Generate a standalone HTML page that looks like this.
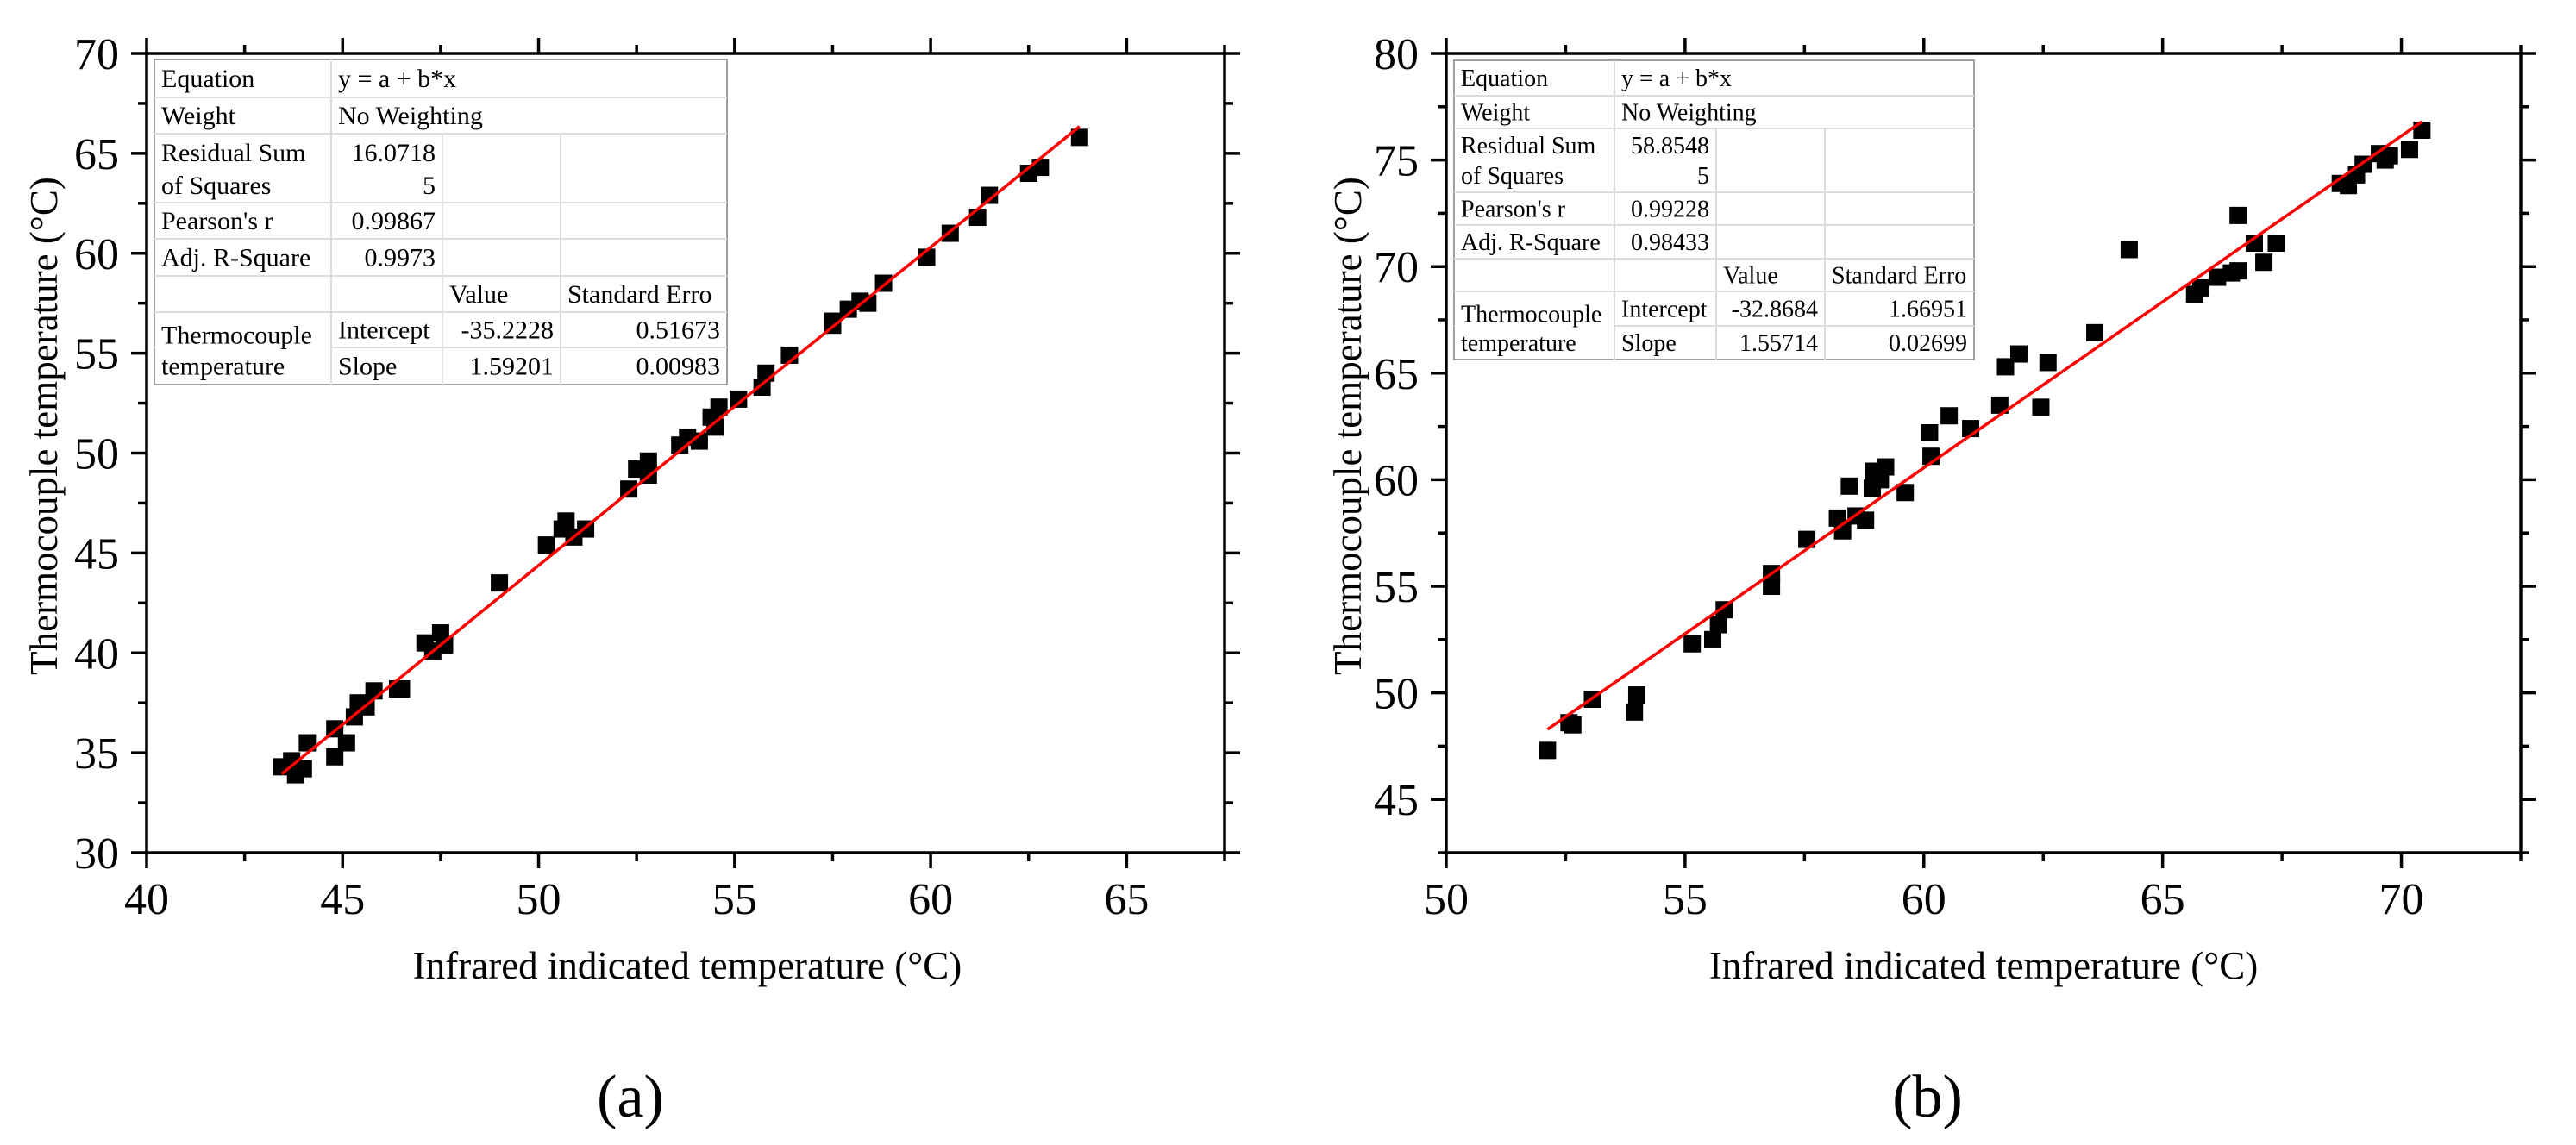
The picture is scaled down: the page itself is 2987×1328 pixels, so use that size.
<!DOCTYPE html>
<html><head><meta charset="utf-8"><style>
html,body{margin:0;padding:0;background:#fff;}
svg{display:block;}
text{font-family:"Liberation Serif",serif;fill:#000;}
</style></head><body>
<svg id="fig" width="2987" height="1328" viewBox="0 0 2987 1328" xmlns="http://www.w3.org/2000/svg">
<g id="pa"></g>
<g id="pb"></g>
</svg>
<script>
// Panel (a) data
const aX = [43.45,43.7,43.8,44.0,44.1,44.8,44.8,45.1,45.3,45.4,45.6,45.8,46.4,46.5,47.1,47.5,47.3,47.6,49.0,50.2,50.6,50.7,50.9,51.2,52.3,52.5,52.8,52.8,53.6,53.8,54.1,54.4,54.5,54.6,55.1,55.7,55.8,56.4,57.5,57.5,57.9,58.2,58.4,58.8,59.9,60.5,61.2,61.5,62.5,62.8,63.8];
const aY = [34.3,34.6,33.9,34.2,35.5,34.8,36.2,35.5,36.8,37.5,37.3,38.1,38.2,38.2,40.5,41.0,40.1,40.4,43.5,45.4,46.2,46.6,45.8,46.2,48.2,49.2,49.6,48.9,50.4,50.8,50.6,51.8,51.3,52.3,52.7,53.3,54.0,54.9,56.4,56.6,57.2,57.6,57.5,58.5,59.8,61.0,61.8,62.9,64.0,64.3,65.8];
const aFit = [-35.2228, 1.59201];
const aXTicks = [40,45,50,55,60,65];
const aYTicks = [30,35,40,45,50,55,60,65,70];
const aTable = [["16.0718","5"],["0.99867"],["0.9973"],["-35.2228","0.51673"],["1.59201","0.00983"]];
// Panel (b) data
const bX = [52.12,52.57,52.65,53.06,53.94,53.99,55.15,55.58,55.70,55.82,56.81,56.81,57.55,58.19,58.30,58.44,58.58,58.78,58.92,58.95,59.09,59.20,59.61,60.12,60.15,60.53,60.98,61.59,61.71,61.99,62.45,62.60,63.58,64.30,65.67,65.80,66.15,66.44,66.58,66.58,66.92,67.12,67.38,68.72,68.89,69.06,69.20,69.54,69.66,69.75,70.17,70.43];
const bY = [47.3,48.6,48.5,49.7,49.1,49.9,52.3,52.5,53.2,53.9,55.6,55.0,57.2,58.2,57.6,59.7,58.3,58.1,59.6,60.4,60.0,60.6,59.4,62.2,61.1,63.0,62.4,63.5,65.3,65.9,63.4,65.5,66.9,70.8,68.7,69.0,69.5,69.7,69.8,72.4,71.1,70.2,71.1,73.9,73.8,74.3,74.8,75.3,75.0,75.2,75.5,76.4];
const bFit = [-32.8684, 1.55714];
const bXTicks = [50,55,60,65,70];
const bYTicks = [45,50,55,60,65,70,75,80];
const bTable = [["58.8548","5"],["0.99228"],["0.98433"],["-32.8684","1.66951"],["1.55714","0.02699"]];

const NS = "http://www.w3.org/2000/svg";
function mk(parent, tag, attrs, txt){
  const e = document.createElementNS(NS, tag);
  for (const k in attrs) e.setAttribute(k, attrs[k]);
  if (txt !== undefined) e.textContent = txt;
  parent.appendChild(e);
  return e;
}

function panel(g, cfg){
  const {L,R,T,B,x0,x1,y0,y1,X,Y,fit,xt,yt,tab,tb,fs,label,lx,ylx,xtc} = cfg;
  const sx = v => L + (v - x0) / (x1 - x0) * (R - L);
  const sy = v => B - (v - y0) / (y1 - y0) * (B - T);
  // table
  const tg = mk(g, 'g', {});
  
  
  const [c0,c1,c2,c3,c4] = tb.cols, r = tb.rows;
  mk(tg,'rect',{x:c0,y:r[0],width:c4-c0,height:r[8]-r[0],fill:'#fff',stroke:'#a0a0a0','stroke-width':2});
  for (let i=1;i<8;i++){ mk(tg,'line',{x1:c0,x2:c4,y1:r[i],y2:r[i],stroke:'#dcdcdc','stroke-width':2}); }
  mk(tg,'line',{x1:c1,x2:c1,y1:r[0],y2:r[8],stroke:'#dcdcdc','stroke-width':2});
  mk(tg,'line',{x1:c2,x2:c2,y1:r[2],y2:r[8],stroke:'#dcdcdc','stroke-width':2});
  mk(tg,'line',{x1:c3,x2:c3,y1:r[2],y2:r[8],stroke:'#dcdcdc','stroke-width':2});
  // cover gridline crossing in merged label cell
  mk(tg,'rect',{x:c0+1,y:r[6]+2,width:c1-c0-2,height:r[8]-r[6]-4,fill:'#fff'});
  const t = (x,y,s,anchor) => mk(tg,'text',{x:x,y:y,'font-size':fs,'text-anchor':anchor||'start'},s);
  const pad = 8, base = (i)=> r[i+1]-(r[i+1]-r[i]-fs*0.68)/2;
  t(c0+pad,base(0),'Equation'); t(c1+pad,base(0),'y = a + b*x');
  t(c0+pad,base(1),'Weight'); t(c1+pad,base(1),'No Weighting');
  const m2 = (r[2]+r[3])/2;
  t(c0+pad,m2-8,'Residual Sum'); t(c0+pad,r[3]-10,'of Squares');
  t(c2-pad,m2-8,tab[0][0],'end'); t(c2-pad,r[3]-10,tab[0][1],'end');
  t(c0+pad,base(3),"Pearson's r"); t(c2-pad,base(3),tab[1][0],'end');
  t(c0+pad,base(4),'Adj. R-Square'); t(c2-pad,base(4),tab[2][0],'end');
  t(c2+pad,base(5),'Value'); t(c3+pad,base(5),'Standard Erro');
  t(c0+pad,base(6)+6,'Thermocouple'); t(c0+pad,base(7),'temperature');
  t(c1+pad,base(6),'Intercept'); t(c2-pad+ (c3-c2) ,base(6),tab[3][0],'end'); t(c4-pad,base(6),tab[3][1],'end');
  t(c1+pad,base(7),'Slope'); t(c2-pad+(c3-c2),base(7),tab[4][0],'end'); t(c4-pad,base(7),tab[4][1],'end');

  // points
  const pg = mk(g,'g',{});
  
  
  for (let i=0;i<X.length;i++){
    const p = mk(pg,'rect',{x:sx(X[i])-10,y:sy(Y[i])-10,width:20,height:20,fill:'#000'});
    
    
  }
  // fit line
  const xmin = Math.min(...X), xmax = Math.max(...X);
  const fl = mk(g,'line',{x1:sx(xmin),y1:sy(fit[0]+fit[1]*xmin),x2:sx(xmax),y2:sy(fit[0]+fit[1]*xmax),stroke:'#ff0000','stroke-width':3.5});
  
  

  // axes frame
  const ag = mk(g,'g',{stroke:'#000','stroke-width':3.5,fill:'none'});
  
  
  mk(ag,'rect',{x:L,y:T,width:R-L,height:B-T});
  // x ticks (bottom & top) major every 5 minor 2.5
  for (let v=x0; v<=x1+1e-6; v+=2.5){
    const major = Math.abs(v/5-Math.round(v/5))<1e-6, len = major?18:10, x=sx(v);
    mk(ag,'line',{x1:x,x2:x,y1:B,y2:B+len});
    mk(ag,'line',{x1:x,x2:x,y1:T,y2:T-len});
  }
  for (let v=Math.ceil(y0/2.5)*2.5; v<=y1+1e-6; v+=2.5){
    const major = Math.abs(v/5-Math.round(v/5))<1e-6, len = major?18:10, y=sy(v);
    mk(ag,'line',{x1:L,x2:L-len,y1:y,y2:y});
    mk(ag,'line',{x1:R,x2:R+len,y1:y,y2:y});
  }
  // tick labels
  const xg = mk(g,'g',{});
  
  
  xt.forEach(v=>mk(xg,'text',{x:sx(v),y:1060,'font-size':52,'text-anchor':'middle'},String(v)));
  const yg = mk(g,'g',{});
  
  
  yt.forEach(v=>mk(yg,'text',{x:L-32,y:sy(v)+18,'font-size':52,'text-anchor':'end'},String(v)));
  // titles
  const xtl = mk(g,'text',{x:xtc,y:1135,'font-size':45,'text-anchor':'middle'},'Infrared indicated temperature (°C)');
  
  
  const ytl = mk(g,'text',{x:0,y:0,'font-size':45,'text-anchor':'middle',transform:`translate(${ylx},494) rotate(-90)`},'Thermocouple temperature (°C)');
  
  
  const pl = mk(g,'text',{x:lx,y:1295,'font-size':70,'text-anchor':'middle'},label);
  
  
}

panel(document.getElementById('pa'),{L:170,R:1420,T:62,B:989,x0:40,x1:67.5,y0:30,y1:70,X:aX,Y:aY,fit:aFit,xt:aXTicks,yt:aYTicks,tab:aTable,
  tb:{cols:[179,384,513,650,843],rows:[69,113,155,235,277,320,362,403,446]},fs:30,label:'(a)',lx:731,ylx:66,xtc:797});
panel(document.getElementById('pb'),{L:1677,R:2923,T:62,B:989,x0:50,x1:72.5,y0:42.5,y1:80,X:bX,Y:bY,fit:bFit,xt:bXTicks,yt:bYTicks,tab:bTable,
  tb:{cols:[1686,1872,1990,2116,2289],rows:[70,111,149,223,261,300,338,378,417]},fs:28,label:'(b)',lx:2235,ylx:1578,xtc:2300});
</script>
</body></html>
